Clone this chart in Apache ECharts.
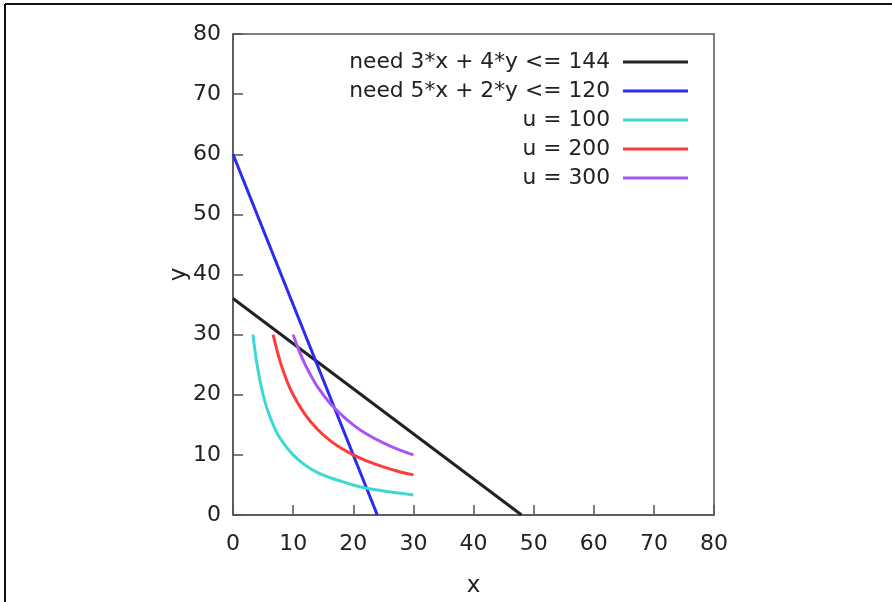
<!DOCTYPE html>
<html>
<head>
<meta charset="utf-8">
<script src="https://cdn.jsdelivr.net/npm/echarts@6/dist/echarts.min.js"></script>
<style>html,body{margin:0;padding:0;background:#fff;}#c{width:892px;height:602px;}</style>
</head>
<body>
<div id="c"></div>
<script>
var seriesNames = ['need 3*x + 4*y <= 144', 'need 5*x + 2*y <= 120', 'u = 100', 'u = 200', 'u = 300'];
var constraint1 = [[0, 36], [48, 0]];
var constraint2 = [[0, 60], [24, 0]];
var u100 = [[3.33,30],[4,25],[5,20],[6,16.7],[7,14.3],[8,12.5],[10,10],[12,8.3],[14,7.1],[16,6.25],[18,5.6],[20,5],[22,4.5],[25,4],[28,3.6],[30,3.33]];
var u200 = [[6.67,30],[7.5,26.7],[8,25],[9,22.2],[10,20],[12,16.7],[14,14.3],[16,12.5],[18,11.1],[20,10],[22,9.1],[25,8],[28,7.1],[30,6.67]];
var u300 = [[10,30],[11,27.3],[12,25],[13,23.1],[14,21.4],[16,18.75],[18,16.7],[20,15],[22,13.6],[25,12],[28,10.7],[30,10]];
var colors = ['#222222', '#2b2bf0', '#3cd8d6', '#ff3b3b', '#a855f7'];
var axisMin = 0, axisMax = 80, axisStep = 10;

var chart = echarts.init(document.getElementById('c'));
var font = 'DejaVu Sans';
function axisCommon(name) {
  return {
    type: 'value', min: axisMin, max: axisMax, interval: axisStep,
    name: name, nameLocation: 'middle', nameMoveOverlap: false,
    nameTextStyle: {fontFamily: font, fontSize: 23, color: '#222'},
    axisLine: {show: true, lineStyle: {color: '#555', width: 1.5}},
    axisTick: {show: true, inside: true, length: 10, lineStyle: {color: '#555', width: 1.5}},
    axisLabel: {fontFamily: font, fontSize: 22, color: '#222'},
    splitLine: {show: false}
  };
}
var xa = axisCommon('x'); xa.nameGap = 60; xa.axisLabel.margin = 18;
var ya = axisCommon('y'); ya.nameGap = 42; ya.axisLabel.margin = 12;
var datasets = [constraint1, constraint2, u100, u200, u300];
chart.setOption({
  animation: false,
  backgroundColor: '#fff',
  grid: {left: 233, top: 34, width: 481, height: 481, show: true, borderColor: '#555', borderWidth: 1.5, containLabel: false, outerBoundsMode: 'none'},
  xAxis: xa,
  yAxis: ya,
  legend: {
    orient: 'vertical', right: 199, top: 46, align: 'right',
    itemWidth: 65, itemHeight: 3, itemGap: 7, icon: 'rect',
    textStyle: {fontFamily: font, fontSize: 21.8, color: '#222', lineHeight: 22, padding: [0, 8, 0, 0]},
    data: seriesNames
  },
  graphic: [
    {type: 'line', shape: {x1: 5, y1: 4, x2: 892, y2: 4}, style: {stroke: '#111', lineWidth: 2}},
    {type: 'line', shape: {x1: 5, y1: 4, x2: 5, y2: 602}, style: {stroke: '#111', lineWidth: 2}}
  ],
  series: datasets.map(function (d, i) {
    return {
      name: seriesNames[i], type: 'line', data: d, showSymbol: false, symbol: 'none',
      smooth: i >= 2 ? 0.4 : false,
      lineStyle: {color: colors[i], width: 3},
      itemStyle: {color: colors[i]}
    };
  })
});
</script>
</body>
</html>
